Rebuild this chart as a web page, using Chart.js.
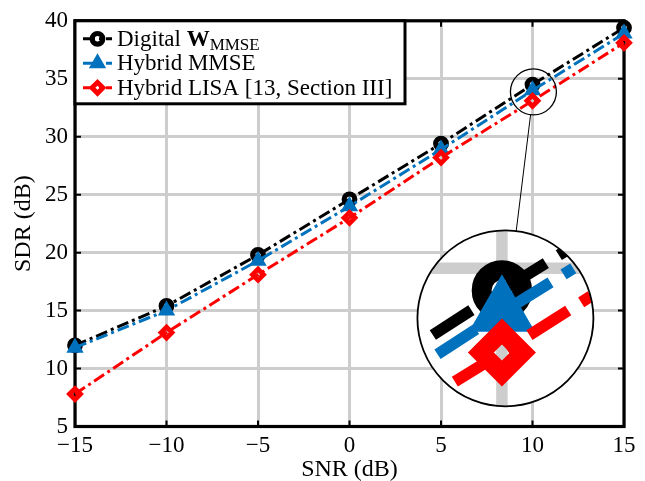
<!DOCTYPE html>
<html><head><meta charset="utf-8">
<script src="https://cdn.jsdelivr.net/npm/chart.js@4.4.1/dist/chart.umd.min.js"></script>
<style>html,body{margin:0;padding:0;background:#fff}canvas{display:block}</style>
</head><body>
<canvas id="c" width="645" height="481" style="width:645px;height:481px"></canvas>
<script>
// ---- data ----
const snr = [-15, -10, -5, 0, 5, 10, 15];
const digitalW = [12.0, 15.4, 19.8, 24.6, 29.4, 34.5, 39.4];
const hybridMMSE = [11.8, 15.0, 19.3, 24.0, 28.9, 34.0, 38.9];
const hybridLISA = [7.8, 13.1, 18.1, 23.0, 28.2, 33.1, 38.1];
const xTicks = [-15, -10, -5, 0, 5, 10, 15];
const xTickLabels = ['\u221215', '\u221210', '\u22125', '0', '5', '10', '15'];
const yTicks = [5, 10, 15, 20, 25, 30, 35, 40];
const yTickLabels = ['5', '10', '15', '20', '25', '30', '35', '40'];
const seriesNames = ['Digital W_MMSE', 'Hybrid MMSE', 'Hybrid LISA [13, Section III]'];
const xTitle = 'SNR (dB)';
const yTitle = 'SDR (dB)';
// zoom inset: source point (data coords) and destination centre (data coords)
const insetSrc = { x: 10.05, y: 33.87 };
const insetDst = { x: 8.52, y: 14.33 };

// ---- styles ----
const SERIF = "'Liberation Serif', 'Times New Roman', Times, serif";
const GRID = '#cdcdcd';
const DASH = [12, 4, 3, 4];
const SRC_R = 23, DST_R = 88;

function pts(ys) { return snr.map((v, i) => ({ x: v, y: ys[i] })); }

const boxPlugin = {
  id: 'box',
  beforeDatasetsDraw(chart) {
    const { ctx, chartArea: a, scales: { x, y } } = chart;
    ctx.save();
    ctx.strokeStyle = '#000';
    ctx.lineWidth = 2;
    ctx.beginPath();
    xTicks.forEach(v => {
      const p = x.getPixelForValue(v);
      ctx.moveTo(p, a.bottom); ctx.lineTo(p, a.bottom - 6);
      ctx.moveTo(p, a.top); ctx.lineTo(p, a.top + 6);
    });
    yTicks.forEach(v => {
      const p = y.getPixelForValue(v);
      ctx.moveTo(a.left, p); ctx.lineTo(a.left + 6, p);
      ctx.moveTo(a.right, p); ctx.lineTo(a.right - 6, p);
    });
    ctx.stroke();
    ctx.lineWidth = 3.2;
    ctx.strokeRect(a.left, a.top, a.right - a.left, a.bottom - a.top);
    ctx.restore();
  }
};

const insetPlugin = {
  id: 'inset',
  afterDatasetsDraw(chart) {
    const { ctx, chartArea: a, scales: { x, y } } = chart;
    const sx = x.getPixelForValue(insetSrc.x), sy = y.getPixelForValue(insetSrc.y);
    const dx = x.getPixelForValue(insetDst.x), dy = y.getPixelForValue(insetDst.y);
    const k = DST_R / SRC_R;
    ctx.save();
    ctx.beginPath();
    ctx.arc(dx, dy, DST_R, 0, Math.PI * 2);
    ctx.fillStyle = '#fff';
    ctx.fill();
    ctx.clip();
    ctx.translate(dx, dy);
    ctx.scale(k, k);
    ctx.translate(-sx, -sy);
    ctx.strokeStyle = GRID;
    ctx.lineWidth = 3;
    ctx.beginPath();
    xTicks.forEach(v => { const p = x.getPixelForValue(v); ctx.moveTo(p, a.top); ctx.lineTo(p, a.bottom); });
    yTicks.forEach(v => { const p = y.getPixelForValue(v); ctx.moveTo(a.left, p); ctx.lineTo(a.right, p); });
    ctx.stroke();
    const metas = chart.getSortedVisibleDatasetMetas();
    for (let i = metas.length - 1; i >= 0; i--) {
      metas[i].controller.draw();
    }
    ctx.restore();
    // circles and connector
    ctx.save();
    ctx.strokeStyle = '#000';
    ctx.lineWidth = 1.8;
    ctx.beginPath(); ctx.arc(dx, dy, DST_R, 0, Math.PI * 2); ctx.stroke();
    ctx.lineWidth = 1.3;
    ctx.beginPath(); ctx.arc(sx, sy, SRC_R, 0, Math.PI * 2); ctx.stroke();
    const vx = dx - sx, vy = dy - sy, len = Math.hypot(vx, vy);
    const ux = vx / len, uy = vy / len;
    ctx.lineWidth = 1;
    ctx.beginPath();
    ctx.moveTo(sx + ux * SRC_R, sy + uy * SRC_R);
    ctx.lineTo(dx - ux * DST_R, dy - uy * DST_R);
    ctx.stroke();
    ctx.restore();
  }
};

const legendPlugin = {
  id: 'customLegend',
  afterDraw(chart) {
    const { ctx, chartArea: a } = chart;
    const L = a.left, T = a.top, W = 330, H = 83;
    ctx.save();
    ctx.fillStyle = '#fff';
    ctx.fillRect(L, T, W, H);
    ctx.strokeStyle = '#000';
    ctx.lineWidth = 3;
    ctx.strokeRect(L, T, W, H);
    chart.data.datasets.forEach((ds, i) => {
      const cy = T + 18 + i * 24.5;
      ctx.save();
      ctx.strokeStyle = ds.borderColor;
      ctx.lineWidth = ds.borderWidth;
      ctx.setLineDash(ds.borderDash);
      ctx.beginPath();
      ctx.moveTo(L + 8, cy); ctx.lineTo(L + 37, cy);
      ctx.stroke();
      ctx.setLineDash([]);
      ctx.fillStyle = ds.pointBackgroundColor;
      ctx.strokeStyle = ds.pointBorderColor;
      ctx.lineWidth = ds.pointBorderWidth;
      Chart.helpers.drawPoint(ctx, { pointStyle: ds.pointStyle, radius: ds.pointRadius, borderWidth: ds.pointBorderWidth, rotation: 0 }, L + 22.5, cy);
      ctx.restore();
      ctx.fillStyle = '#000';
      ctx.textBaseline = 'alphabetic';
      ctx.textAlign = 'left';
      const bx = L + 42, by = cy + 7;
      if (i === 0) {
        const parts = seriesNames[0].split(' ');
        const main = parts[0] + ' ';
        const sub = parts[1].split('_');
        ctx.font = '23px ' + SERIF;
        ctx.fillText(main, bx, by);
        let xx = bx + ctx.measureText(main).width;
        ctx.font = 'bold 23px ' + SERIF;
        ctx.fillText(sub[0], xx, by);
        xx += ctx.measureText(sub[0]).width;
        ctx.font = '17px ' + SERIF;
        ctx.fillText(sub[1], xx, by + 4);
      } else {
        ctx.font = '23px ' + SERIF;
        ctx.fillText(seriesNames[i], bx, by);
      }
    });
    ctx.restore();
  }
};

const tickFont = { family: SERIF, size: 23 };
const titleFont = { family: SERIF, size: 24 };

new Chart(document.getElementById('c'), {
  type: 'line',
  data: {
    datasets: [
      {
        label: seriesNames[0], data: pts(digitalW), order: 3,
        borderColor: '#000000', borderWidth: 3, borderDash: DASH,
        pointStyle: 'circle', pointRadius: 5.3, pointBorderWidth: 5.2,
        pointBackgroundColor: 'rgba(0,0,0,0)', pointBorderColor: '#000000', clip: false
      },
      {
        label: seriesNames[1], data: pts(hybridMMSE), order: 2,
        borderColor: '#0072BD', borderWidth: 3, borderDash: DASH,
        pointStyle: 'triangle', pointRadius: 8, pointBorderWidth: 2,
        pointBackgroundColor: '#0072BD', pointBorderColor: '#0072BD', clip: false
      },
      {
        label: seriesNames[2], data: pts(hybridLISA), order: 1,
        borderColor: '#FF0000', borderWidth: 3, borderDash: DASH,
        pointStyle: 'rectRot', pointRadius: 5.5, pointBorderWidth: 4.8,
        pointBackgroundColor: 'rgba(0,0,0,0)', pointBorderColor: '#FF0000', clip: false
      }
    ]
  },
  options: {
    responsive: false,
    devicePixelRatio: 1,
    animation: false,
    events: [],
    layout: { padding: { top: 15, right: 21, left: 0, bottom: 0 } },
    plugins: { legend: { display: false }, tooltip: { enabled: false } },
    elements: { line: { tension: 0 } },
    scales: {
      x: {
        type: 'linear', min: -15, max: 15,
        afterBuildTicks: s => { s.ticks = xTicks.map(v => ({ value: v })); },
        afterFit: s => { s.height = 54.5; },
        ticks: { callback: v => xTickLabels[xTicks.indexOf(v)], font: tickFont, color: '#000', padding: 6, maxRotation: 0, autoSkip: false },
        grid: { color: GRID, lineWidth: 3, drawTicks: false },
        border: { display: false },
        title: { display: true, text: xTitle, font: titleFont, color: '#000', padding: { top: 0, bottom: -3 } }
      },
      y: {
        type: 'linear', min: 5, max: 40,
        afterBuildTicks: s => { s.ticks = yTicks.map(v => ({ value: v })); },
        afterFit: s => { s.width = 75; },
        ticks: { callback: v => yTickLabels[yTicks.indexOf(v)], font: tickFont, color: '#000', padding: 7, autoSkip: false },
        grid: { color: GRID, lineWidth: 3, drawTicks: false },
        border: { display: false },
        title: { display: true, text: yTitle, font: titleFont, color: '#000', padding: { top: 9, bottom: 0 } }
      }
    }
  },
  plugins: [boxPlugin, insetPlugin, legendPlugin]
});
</script>
</body></html>
